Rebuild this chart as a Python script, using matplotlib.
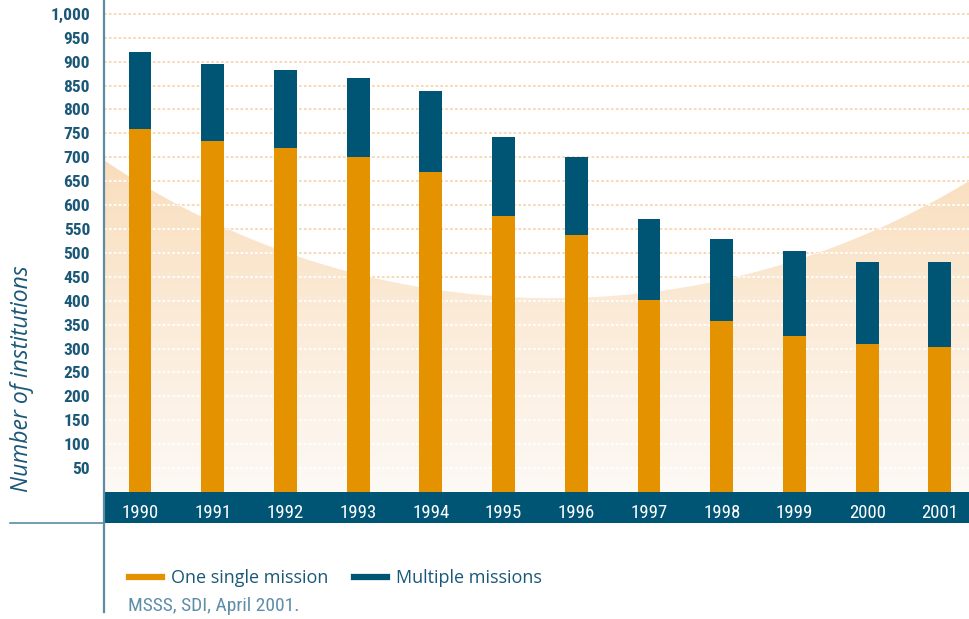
import numpy as np
import matplotlib
matplotlib.use("Agg")
import matplotlib.pyplot as plt
from matplotlib import font_manager
from matplotlib.patches import Polygon, Rectangle
from matplotlib.lines import Line2D
from matplotlib.colors import LinearSegmentedColormap

# data
years = ["1990", "1991", "1992", "1993", "1994", "1995",
         "1996", "1997", "1998", "1999", "2000", "2001"]
single_mission = [760, 735, 720, 700, 670, 578, 538, 402, 357, 326, 309, 303]
multiple_missions = [160, 160, 162, 165, 168, 165, 162, 168, 172, 178, 171, 177]
y_ticks = list(range(50, 1001, 50))

ORANGE = "#E59200"
NAVY = "#005474"
TEXT_BLUE = "#1B5878"
LINE_BLUE = "#5B8CA3"
GRID_PEACH = "#F8D7B2"

# pick a narrow face if one is installed
installed = {f.name for f in font_manager.fontManager.ttflist}
NARROW = [f for f in ["Liberation Sans Narrow", "Roboto Condensed",
                      "DejaVu Sans"] if f in installed] or ["DejaVu Sans"]

W, H = 969, 619
fig = plt.figure(figsize=(W / 100, H / 100), dpi=100)
fig.patch.set_facecolor("white")

# axes placed in pixel terms: left edge 104, value 0 at y=492 from top
ax_left, ax_right, ax_bottom = 104, 969, 492
ax = fig.add_axes([ax_left / W, (H - ax_bottom) / H,
                   (ax_right - ax_left) / W, ax_bottom / H])
ax.set_facecolor("none")

x = np.arange(len(years))
xmin, xmax = -0.495, 11.40
ymin, ymax = 0, 1029
ax.set_xlim(xmin, xmax)
ax.set_ylim(ymin, ymax)

# decorative arc: region below a large circle, filled with a soft gradient
t = np.linspace(0, 1, 300)
cx, cy, rx, ry = 0.5188, 2.0181, 0.9232, 1.6242
arc_y = cy - ry * np.sqrt(1 - ((t - cx) / rx) ** 2)
verts = np.column_stack([np.r_[0, t, 1], np.r_[0, arc_y, 0]])
shape = Polygon(verts, closed=True, transform=ax.transAxes,
                facecolor="none", edgecolor="none")
ax.add_patch(shape)

cmap = LinearSegmentedColormap.from_list("peach", ["#FDF9F5", "#F9DCB9"])
grad = np.clip(np.linspace(0, 1, 256).reshape(-1, 1) / 0.72, 0, 1)
img = ax.imshow(grad, cmap=cmap, origin="lower", aspect="auto",
                extent=[xmin, xmax, ymin, ymax], vmin=0, vmax=1, zorder=0.5)
img.set_clip_path(shape)

# dotted gridlines: peach on white, white over the shaded region
ax.hlines(y_ticks, xmin, xmax, colors=GRID_PEACH, linewidth=1.3,
          linestyles=(0, (1.5, 1.2)), zorder=0.3)
white_grid = ax.hlines(y_ticks, xmin, xmax, colors="white", linewidth=1.3,
                       linestyles=(0, (1.5, 1.2)), zorder=0.6)
white_grid.set_clip_path(shape)

# stacked bars
bar_w = 0.315
ax.bar(x, single_mission, width=bar_w, color=ORANGE, zorder=2)
ax.bar(x, multiple_missions, width=bar_w, bottom=single_mission,
       color=NAVY, zorder=2)

for s in ax.spines.values():
    s.set_visible(False)

ax.set_yticks(y_ticks)
ax.set_yticklabels([f"{v:,}" for v in y_ticks])
ax.tick_params(axis="y", length=0, pad=10, labelsize=12.5, labelcolor=TEXT_BLUE)
for lab in ax.get_yticklabels():
    lab.set_family(NARROW)
    lab.set_fontstretch("condensed")
    lab.set_fontweight("bold")

ax.set_xticks(x)
ax.set_xticklabels(years)
ax.tick_params(axis="x", length=0, pad=8.5, labelsize=13.5, labelcolor="white")
for lab in ax.get_xticklabels():
    lab.set_family(NARROW)
    lab.set_fontstretch("condensed")

# dark band holding the year labels
fig.patches.append(Rectangle((ax_left / W, (H - 523) / H), (W - ax_left) / W,
                             31 / H, transform=fig.transFigure,
                             facecolor=NAVY, edgecolor="none", zorder=-1))

# frame lines
fig.add_artist(Line2D([ax_left / W, ax_left / W], [1, (H - 612) / H],
                      color=LINE_BLUE, linewidth=1.6))
fig.add_artist(Line2D([10 / W, ax_left / W], [(H - 523) / H, (H - 523) / H],
                      color=LINE_BLUE, linewidth=1.2))

fig.text(22 / W, (H - 379) / H, "Number of institutions", rotation=90,
         ha="center", va="center", color=TEXT_BLUE, fontsize=16.5,
         fontstyle="italic", family=["Open Sans", "DejaVu Sans"])

handles = [Line2D([], [], color=ORANGE, linewidth=4.5),
           Line2D([], [], color=NAVY, linewidth=4.5)]
fig.legend(handles, ["One single mission", "Multiple missions"],
           loc="center left", bbox_to_anchor=(129 / W, (H - 578) / H),
           ncol=2, frameon=False, borderpad=0, borderaxespad=0,
           handlelength=1.85, handletextpad=0.45, columnspacing=1.45,
           labelcolor=TEXT_BLUE,
           prop={"family": ["Open Sans", "DejaVu Sans"], "size": 13})

fig.text(128 / W, (H - 606) / H, "MSSS, SDI, April 2001.", ha="left",
         va="center", color="#5E8EA8", fontsize=14, family=NARROW,
         fontstretch="condensed")

fig.savefig("out.png", dpi=100)
